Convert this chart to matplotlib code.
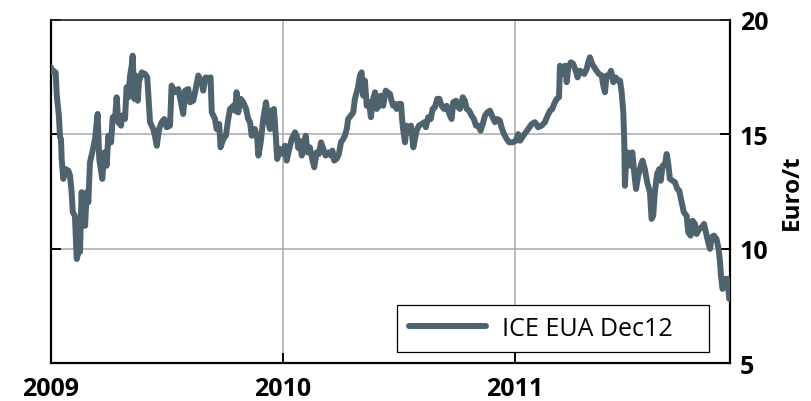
import matplotlib
matplotlib.use("Agg")
import matplotlib.pyplot as plt

plt.rcParams['font.family'] = ['Open Sans', 'DejaVu Sans']

# ICE EUA Dec12 settlement (decimal year, Euro/t)
years = [
    2009.000, 2009.003, 2009.010, 2009.020, 2009.025, 2009.034, 2009.039, 2009.043,
    2009.046, 2009.053, 2009.063, 2009.075, 2009.082, 2009.089, 2009.094, 2009.103,
    2009.111, 2009.118, 2009.125, 2009.132, 2009.139, 2009.147, 2009.154, 2009.161,
    2009.168, 2009.178, 2009.190, 2009.201, 2009.208, 2009.221, 2009.230, 2009.240,
    2009.247, 2009.259, 2009.266, 2009.276, 2009.283, 2009.290, 2009.302, 2009.307,
    2009.319, 2009.326, 2009.333, 2009.341, 2009.348, 2009.352, 2009.359, 2009.365,
    2009.374, 2009.379, 2009.391, 2009.405, 2009.415, 2009.427, 2009.441, 2009.448,
    2009.456, 2009.466, 2009.477, 2009.488, 2009.499, 2009.513, 2009.520, 2009.534,
    2009.549, 2009.563, 2009.570, 2009.578, 2009.592, 2009.599, 2009.613, 2009.621,
    2009.635, 2009.650, 2009.656, 2009.667, 2009.678, 2009.688, 2009.693, 2009.707,
    2009.714, 2009.725, 2009.731, 2009.743, 2009.754, 2009.764, 2009.772, 2009.786,
    2009.793, 2009.800, 2009.807, 2009.818, 2009.829, 2009.841, 2009.850, 2009.858,
    2009.865, 2009.879, 2009.889, 2009.894, 2009.904, 2009.915, 2009.927, 2009.937,
    2009.944, 2009.951, 2009.961, 2009.970, 2009.975, 2009.987, 2009.999,
    2010.009, 2010.016, 2010.027, 2010.038, 2010.052, 2010.059, 2010.066, 2010.073,
    2010.081, 2010.088, 2010.098, 2010.106, 2010.116, 2010.126, 2010.135, 2010.145,
    2010.155, 2010.164, 2010.174, 2010.184, 2010.196, 2010.207, 2010.213, 2010.221,
    2010.231, 2010.241, 2010.250, 2010.260, 2010.267, 2010.275, 2010.281, 2010.293,
    2010.303, 2010.310, 2010.322, 2010.332, 2010.339, 2010.346, 2010.353, 2010.361,
    2010.371, 2010.379, 2010.389, 2010.397, 2010.404, 2010.414, 2010.422, 2010.432,
    2010.443, 2010.451, 2010.461, 2010.468, 2010.475, 2010.483, 2010.490, 2010.500,
    2010.509, 2010.514, 2010.518, 2010.526, 2010.533, 2010.543, 2010.552, 2010.562,
    2010.569, 2010.576, 2010.586, 2010.598, 2010.609, 2010.616, 2010.626, 2010.637,
    2010.645, 2010.655, 2010.665, 2010.674, 2010.684, 2010.694, 2010.706, 2010.717,
    2010.727, 2010.734, 2010.746, 2010.756, 2010.763, 2010.775, 2010.784, 2010.792,
    2010.803, 2010.813, 2010.823, 2010.832, 2010.842, 2010.852, 2010.861, 2010.871,
    2010.881, 2010.892, 2010.904, 2010.914, 2010.924, 2010.935, 2010.942, 2010.953,
    2010.964, 2010.975, 2010.990,
    2011.004, 2011.014, 2011.022, 2011.036, 2011.047, 2011.057, 2011.072, 2011.086,
    2011.100, 2011.115, 2011.129, 2011.141, 2011.151, 2011.161, 2011.169, 2011.180,
    2011.190, 2011.194, 2011.201, 2011.208, 2011.216, 2011.223, 2011.230, 2011.241,
    2011.251, 2011.262, 2011.270, 2011.280, 2011.290, 2011.299, 2011.309, 2011.316,
    2011.323, 2011.333, 2011.342, 2011.352, 2011.362, 2011.374, 2011.381, 2011.388,
    2011.395, 2011.405, 2011.414, 2011.424, 2011.434, 2011.444, 2011.453, 2011.460,
    2011.467, 2011.471, 2011.474, 2011.478, 2011.486, 2011.496, 2011.506, 2011.514,
    2011.522, 2011.531, 2011.542, 2011.550, 2011.560, 2011.570, 2011.582, 2011.589,
    2011.596, 2011.603, 2011.613, 2011.622, 2011.628, 2011.637, 2011.647, 2011.654,
    2011.661, 2011.668, 2011.680, 2011.690, 2011.700, 2011.708, 2011.719, 2011.728,
    2011.740, 2011.747, 2011.757, 2011.766, 2011.776, 2011.783, 2011.794, 2011.805,
    2011.815, 2011.823, 2011.833, 2011.841, 2011.848, 2011.858, 2011.869, 2011.878,
    2011.884, 2011.888, 2011.895, 2011.905, 2011.915, 2011.924,
]
price = [
    17.93, 17.71, 17.78, 17.70, 16.69, 15.82, 14.87, 14.80,
    13.92, 13.05, 13.48, 13.41, 13.19, 12.47, 11.59, 11.44,
    9.55, 9.84, 9.86, 12.47, 11.88, 11.00, 12.47, 12.03,
    13.78, 14.21, 14.80, 15.89, 13.92, 13.05, 14.21, 13.63,
    14.94, 14.65, 15.75, 15.67, 16.62, 15.53, 15.38, 15.82,
    15.67, 17.06, 16.62, 17.57, 18.00, 18.44, 16.55, 17.57,
    16.47, 17.28, 17.71, 17.64, 17.49, 15.53, 15.23, 14.94,
    14.50, 15.23, 15.53, 15.67, 15.31, 15.38, 17.13, 16.84,
    16.98, 16.25, 15.89, 16.91, 16.98, 16.40, 16.47, 16.84,
    17.57, 17.28, 16.91, 17.49, 17.42, 17.49, 15.96, 15.67,
    15.23, 15.45, 14.43, 14.80, 14.94, 15.67, 16.11, 16.25,
    16.03, 16.84, 15.96, 16.55, 16.40, 16.11, 15.67, 15.53,
    14.94, 15.23, 14.80, 14.07, 14.65, 15.67, 16.40, 15.53,
    15.23, 16.03, 16.11, 14.80, 13.92, 14.36, 14.14,
    14.50, 13.85, 14.36, 14.80, 15.09, 14.94, 14.40, 14.72,
    14.07, 14.36, 14.94, 14.21, 14.43, 13.92, 13.56, 14.21,
    14.14, 14.65, 14.36, 14.07, 14.21, 14.07, 14.29, 13.85,
    13.92, 14.14, 14.65, 14.80, 14.94, 15.23, 15.67, 15.82,
    15.96, 16.55, 16.98, 17.57, 17.71, 16.69, 17.35, 16.25,
    16.40, 15.75, 16.55, 16.84, 16.11, 16.25, 16.69, 16.25,
    16.91, 16.84, 16.77, 16.47, 16.25, 16.33, 16.11, 16.33,
    16.33, 15.60, 15.23, 14.65, 15.38, 15.09, 15.38, 14.43,
    14.80, 15.16, 15.38, 15.45, 15.53, 15.31, 15.75, 15.67,
    16.11, 16.18, 16.55, 16.55, 16.25, 16.11, 16.25, 15.89,
    15.67, 16.40, 16.47, 16.18, 16.11, 16.62, 16.47, 16.11,
    16.03, 15.82, 15.67, 15.38, 15.38, 15.16, 15.45, 15.82,
    15.96, 16.03, 15.75, 15.53, 15.67, 15.60, 15.31, 15.01,
    14.80, 14.65, 14.65,
    14.72, 15.01, 14.72, 14.94, 15.09, 15.23, 15.45, 15.53,
    15.31, 15.38, 15.53, 15.82, 16.03, 16.11, 16.33, 16.55,
    16.62, 18.00, 17.86, 17.64, 18.00, 17.28, 17.93, 18.15,
    18.08, 17.78, 17.49, 17.78, 17.71, 17.64, 17.86, 18.15,
    18.37, 18.08, 17.93, 17.78, 17.64, 17.57, 17.13, 16.84,
    17.57, 17.57, 17.78, 17.28, 17.49, 17.35, 17.35, 16.84,
    15.96, 14.80, 12.75, 13.63, 14.21, 13.63, 14.21, 13.34,
    12.61, 13.19, 13.63, 13.85, 13.48, 12.90, 12.47, 11.30,
    11.44, 12.47, 13.27, 13.48, 12.97, 13.63, 13.70, 14.14,
    13.70, 13.05, 12.97, 12.90, 12.61, 12.54, 12.03, 11.59,
    11.44, 10.72, 10.57, 11.22, 11.08, 10.64, 10.86, 10.94,
    11.08, 10.72, 10.28, 9.99, 10.50, 10.57, 10.42, 9.99,
    9.41, 8.82, 8.24, 8.68, 8.68, 7.80,
]

year_ticks = [2009, 2010, 2011]
price_ticks = [5, 10, 15, 20]
series_name = "ICE EUA Dec12"

fig = plt.figure(figsize=(8.12, 4.02), dpi=100)
ax = fig.add_axes([0.0628, 0.0945, 0.8362, 0.8533])

ax.plot(years, price, color='#4e636e', lw=4.3, solid_joinstyle='round',
        solid_capstyle='round', label=series_name, zorder=3)

ax.set_xlim(2009, 2011.927)
ax.set_ylim(5, 20)
ax.set_xticks(year_ticks)
ax.set_xticklabels([str(y) for y in year_ticks])
ax.set_yticks(price_ticks)

ax.grid(True, color='#a8a8a8', lw=1.1, zorder=0)

for side in ['left', 'bottom', 'right']:
    ax.spines[side].set_linewidth(1.6)
    ax.spines[side].set_color('black')
ax.spines['top'].set_linewidth(1.2)
ax.spines['top'].set_color('#222222')

ax.tick_params(axis='y', left=True, right=True, labelleft=False, labelright=True,
               direction='in', length=7, width=1.4, pad=7, labelsize=18)
ax.tick_params(axis='x', direction='in', length=7, width=1.4, pad=9, labelsize=18)
for lbl in ax.get_xticklabels() + ax.get_yticklabels():
    lbl.set_fontweight('bold')

ax.yaxis.set_label_position('right')
ax.set_ylabel('Euro/t', fontsize=17.5, fontweight='bold', labelpad=8)

leg = ax.legend(loc='lower left', bbox_to_anchor=(0.51, 0.032, 0.459, 0.134),
                mode='expand', borderaxespad=0, fontsize=18, handlelength=3.1,
                handletextpad=0.65, borderpad=0.45, fancybox=False, framealpha=1,
                edgecolor='black')
leg.get_frame().set_linewidth(0.9)

fig.savefig('out.png', dpi=100)
